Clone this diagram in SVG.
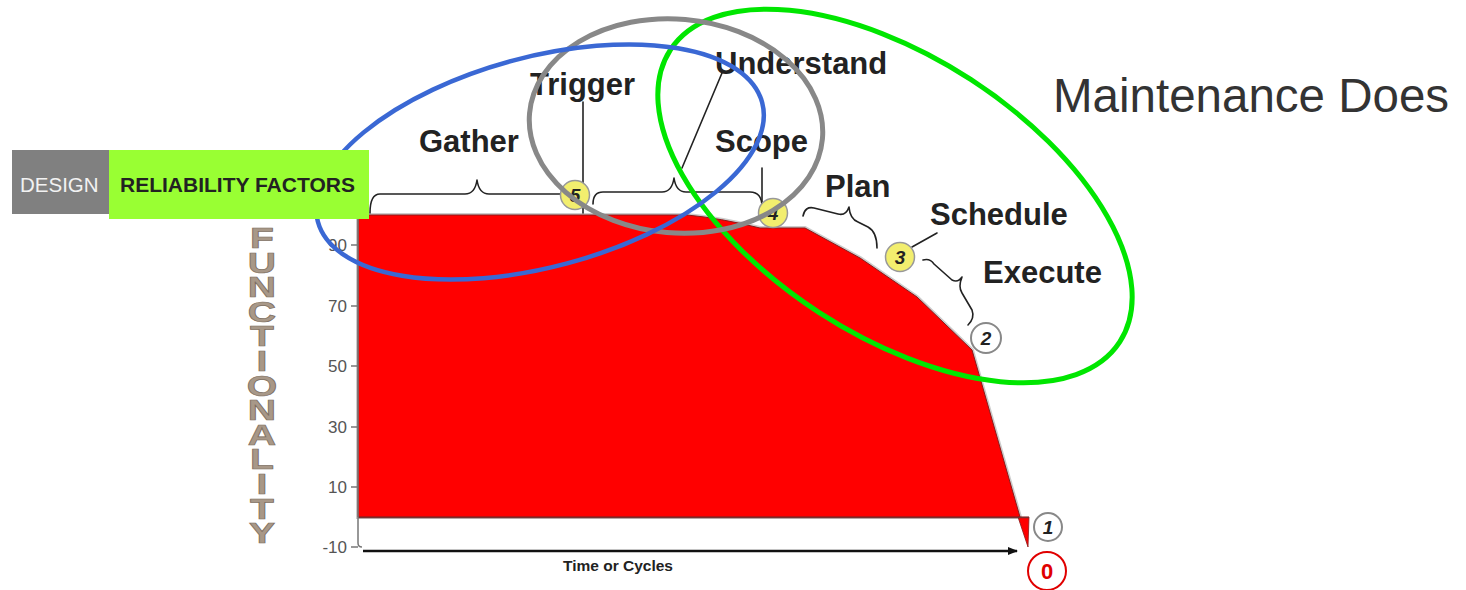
<svg xmlns="http://www.w3.org/2000/svg" width="1466" height="590" viewBox="0 0 1466 590">
<style>
.lbl{font-family:"Liberation Sans",Arial,sans-serif;font-weight:bold;font-size:31px;fill:#222}
.ax{font-family:"Liberation Sans",Arial,sans-serif;font-size:17px;fill:#555;text-anchor:end}
.fl{font-family:"Liberation Sans",Arial,sans-serif;font-weight:bold;font-size:29px;fill:#a89888;stroke:#7d6e60;stroke-width:0.7;writing-mode:vertical-rl;text-orientation:upright;letter-spacing:-7.4px}
.br{fill:none;stroke:#222;stroke-width:1.6;stroke-linejoin:round;stroke-linecap:round}
.yc{fill:#f2ee6e;stroke:#999;stroke-width:1.5}
.wc{fill:#fff;stroke:#888;stroke-width:2}
.num{font-family:"Liberation Sans",Arial,sans-serif;font-weight:bold;font-style:italic;font-size:19px;fill:#222;text-anchor:middle}
.ell{fill:none}
</style>
<defs>
<marker id="ah" markerWidth="10" markerHeight="8" refX="9" refY="4" orient="auto" markerUnits="userSpaceOnUse">
<path d="M0,0 L10,4 L0,8 Z" fill="#111"/>
</marker>
</defs>
<rect width="1466" height="590" fill="#fff"/>

<g id="chart">
<path d="M358,215 L687,215 Q720,218 760,228 L805,228 L860,258 L917,297 L972,350 L1020,517 L358,517 Z" fill="none" stroke="#ccc" stroke-width="4"/>
<path d="M358,215 L687,215 Q720,218 760,228 L805,228 L860,258 L917,297 L972,350 L1020,517 L358,517 Z" fill="#ff0000" stroke="#8a1a1a" stroke-width="1"/>
<path d="M1018,517 L1029,517 L1028,547 Z" fill="#ff0000" stroke="#8a1a1a" stroke-width="0.8"/>
<line x1="358" y1="517.5" x2="1029" y2="517.5" stroke="#7a3030" stroke-width="1.5"/>
<path d="M358,215 L358,543 Q358,547 362,547" fill="none" stroke="#777" stroke-width="1.5"/>
<g stroke="#777" stroke-width="1.5">
<line x1="351" y1="245" x2="358" y2="245"/>
<line x1="351" y1="306" x2="358" y2="306"/>
<line x1="351" y1="366" x2="358" y2="366"/>
<line x1="351" y1="427" x2="358" y2="427"/>
<line x1="351" y1="487" x2="358" y2="487"/>
<line x1="351" y1="547" x2="358" y2="547"/>
</g>
<text class="ax" x="347" y="251">90</text>
<text class="ax" x="347" y="312">70</text>
<text class="ax" x="347" y="372">50</text>
<text class="ax" x="347" y="433">30</text>
<text class="ax" x="347" y="493">10</text>
<text class="ax" x="347" y="553">-10</text>
<line x1="363" y1="551" x2="1017" y2="551" stroke="#111" stroke-width="2.5" marker-end="url(#ah)"/>
<text x="618" y="571" font-family="Liberation Sans, Arial, sans-serif" font-weight="bold" font-size="15.5" fill="#222" text-anchor="middle">Time or Cycles</text>
</g>

<g id="y-title" transform="translate(262,0) scale(1.35,1)">
<text class="fl" x="0" y="222">FUNCTIONALITY</text>
</g>

<g id="connectors">
<path class="br" d="M370,213 Q370,194 380,194 L465,194 Q475,194 477,180 Q479,194 489,194 L563,194"/>
<path class="br" d="M583,102 L583,213"/>
<path class="br" d="M593,204 Q593,192 603,192 L662,192 Q672,192 674,178 Q676,192 686,192 L750,192 Q762,192 762,207"/>
<path class="br" d="M722,73 L682,168"/>
<path class="br" d="M762,168 L762,205"/>
<path class="br" d="M803,216 Q805,206 814,208 L838,214 Q846,216 849,207 Q850,219 858,222 L868,227 Q877,232 877,248"/>
<path class="br" d="M937,233 L912,247"/>
<path class="br" d="M923,260 Q930,258 934,264 L952,280 Q958,283 962,277 Q958,287 962,293 L972,310 Q975,318 968,325"/>
</g>

<g id="labels">
<text class="lbl" x="419" y="152">Gather</text>
<text class="lbl" x="530" y="95">Trigger</text>
<text class="lbl" x="715" y="74">Understand</text>
<text class="lbl" x="715" y="152">Scope</text>
<text class="lbl" x="825" y="197">Plan</text>
<text class="lbl" x="930" y="225">Schedule</text>
<text class="lbl" x="983" y="283">Execute</text>
<text x="1053" y="112" font-family="Liberation Sans, Arial, sans-serif" font-size="47.5" fill="#333">Maintenance Does</text>
</g>

<g id="node-5"><circle class="yc" cx="575" cy="195" r="14.5"/><text class="num" x="575" y="202">5</text></g>
<g id="node-4"><circle class="yc" cx="773" cy="213" r="14.5"/><text class="num" x="773" y="220">4</text></g>
<g id="node-3"><circle class="yc" cx="900" cy="257" r="14.5"/><text class="num" x="900" y="264">3</text></g>
<g id="node-2"><circle class="wc" cx="986" cy="338" r="15"/><text class="num" x="986" y="345">2</text></g>
<g id="node-1"><circle class="wc" cx="1048" cy="527" r="14"/><text class="num" x="1048" y="534">1</text></g>
<g id="node-0"><circle cx="1047" cy="571" r="19" fill="#fff" stroke="#e00000" stroke-width="2"/><text x="1047" y="579" font-family="Liberation Sans, Arial, sans-serif" font-weight="bold" font-size="22" fill="#e00000" text-anchor="middle">0</text></g>

<g id="ellipses">
<ellipse class="ell" cx="895" cy="196" rx="268" ry="139" transform="rotate(33 895 196)" stroke="#00e600" stroke-width="5"/>
<ellipse class="ell" cx="676" cy="126" rx="147" ry="107" transform="rotate(5 676 126)" stroke="#888" stroke-width="5"/>
<ellipse class="ell" cx="540" cy="162" rx="230" ry="105" transform="rotate(-15 540 162)" stroke="#3a68d4" stroke-width="4.5"/>
</g>

<g id="header">
<rect x="12" y="150" width="98" height="64" fill="#808080"/>
<text x="20" y="192" font-family="Liberation Sans, Arial, sans-serif" font-size="20.5" fill="#f2f2f2">DESIGN</text>
<rect x="109" y="150" width="260" height="69" fill="#99ff33"/>
<text x="120" y="192" font-family="Liberation Sans, Arial, sans-serif" font-weight="bold" font-size="21" fill="#222">RELIABILITY FACTORS</text>
</g>
</svg>
